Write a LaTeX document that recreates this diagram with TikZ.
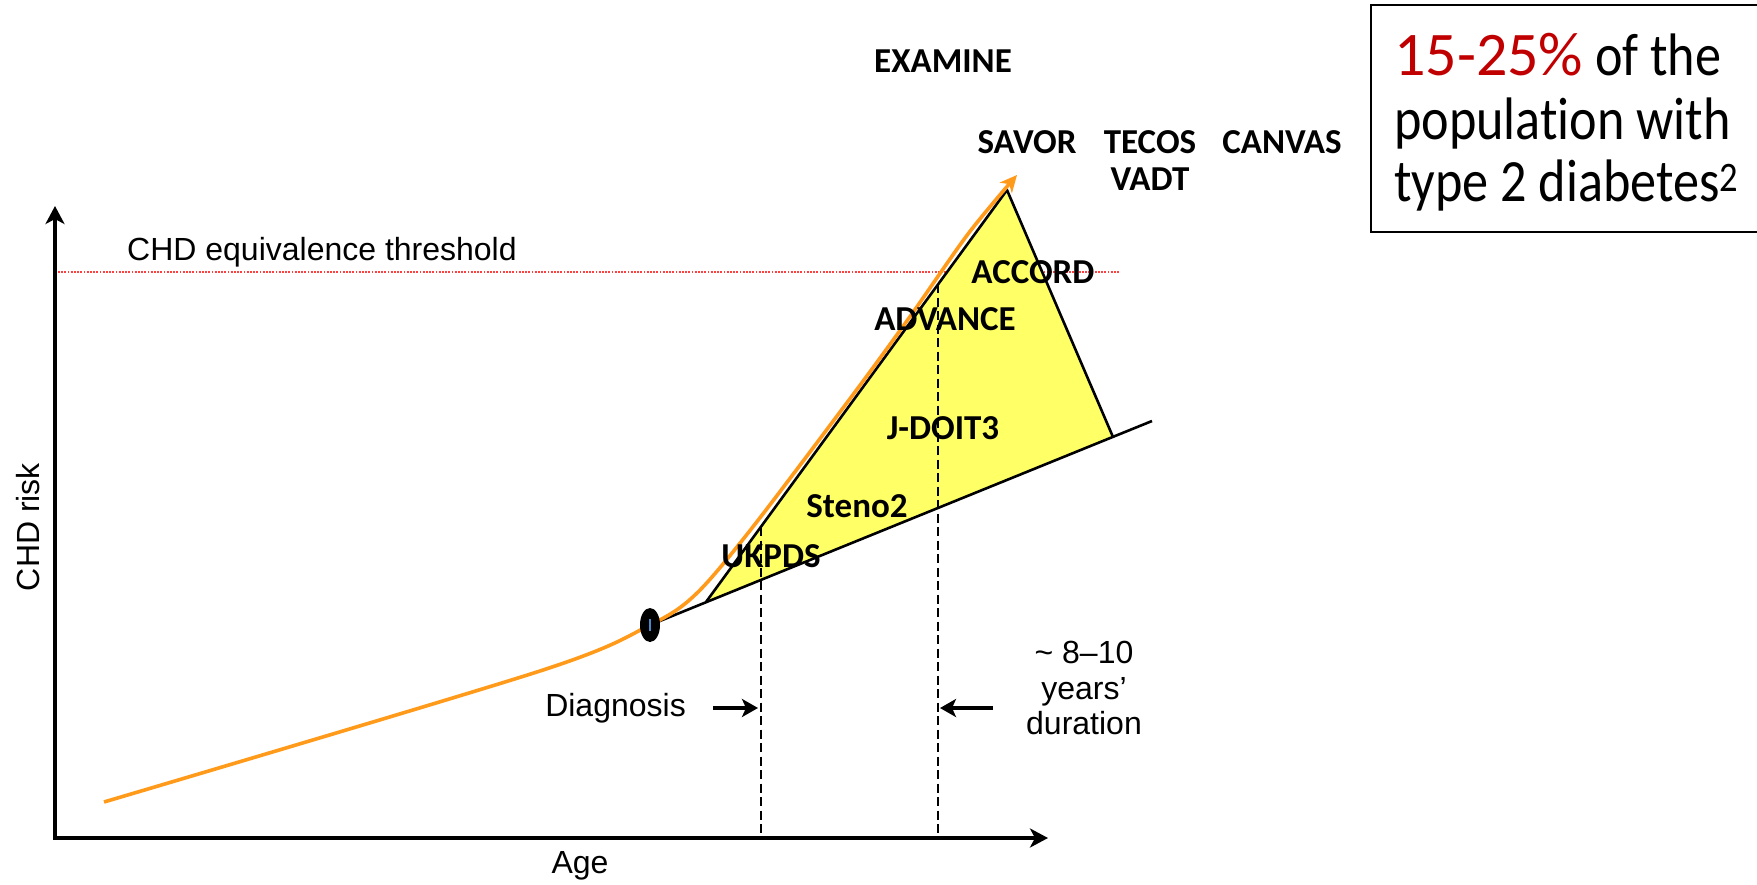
\documentclass[tikz,border=0pt]{standalone}
\usepackage{fontspec}
\setmainfont{Carlito}
\newfontfamily\arial{Liberation Sans}
\newfontfamily\boxfont[FakeStretch=0.87, Ligatures=NoCommon]{Carlito}
\usetikzlibrary{arrows.meta,shapes.geometric,calc}
\definecolor{orangeC}{HTML}{FF9A1A}
\definecolor{yellowC}{HTML}{FFFF66}
\definecolor{redC}{HTML}{C00000}
\definecolor{dotred}{HTML}{FF4040}
\definecolor{dotblue}{HTML}{4A8AC8}
\begin{document}
\begin{tikzpicture}[x=1pt,y=-1pt,
  trial/.style={font=\fontsize{35}{40}\selectfont\bfseries, inner sep=0pt, anchor=base},
  lab/.style={font=\arial\fontsize{32}{35.5}\selectfont, inner sep=0pt},
  boxline/.style={font=\boxfont\fontsize{60}{62}\selectfont, inner sep=0pt, anchor=base west},
  axisline/.style={line width=3.2pt, {Stealth[length=18pt,width=19pt,inset=5pt]}-{Stealth[length=18pt,width=19pt,inset=5pt]}},
  thr/.style={draw=dotred, line width=2.5pt, dash pattern=on 1.8pt off 1.4pt},
  triedge/.style={line width=2.6pt, line join=round},
  dashv/.style={line width=2pt, dash pattern=on 9pt off 4.5pt},
  harrow/.style={line width=4pt, -{Stealth[length=16pt,width=18pt,inset=4pt]}},
  orangecurve/.style={draw=orangeC, line width=3.6pt, -{Stealth[length=17pt,width=16pt,inset=5pt]}},
]
\useasboundingbox (0,0) rectangle (1757,884);

% axes
\coordinate (O) at (55,838);
\coordinate (Ytip) at (55,206);
\coordinate (Xtip) at (1048,838);
\draw[axisline] (Ytip) -- (O) -- (Xtip);

% threshold
\coordinate (T1) at (58,272);
\coordinate (T2) at (1120,272);
\draw[thr] (T1) -- (T2);
\node[lab, anchor=base west] (thrtext) at (127,260) {CHD equivalence threshold};

% triangle
\coordinate (A) at (706,602);
\coordinate (B) at (1007,190);
\coordinate (C) at (1113,437);
\fill[yellowC] (A) -- (B) -- (C) -- cycle;
\draw[triedge] (A) -- (B) -- (C);

% lower line
\coordinate (L1) at (650,625);
\coordinate (L2) at (1152,421);
\draw[line width=2.6pt] (L1) -- (L2);

% dashed verticals
\coordinate (D1t) at (761,527);
\coordinate (D1b) at (761,838);
\coordinate (D2t) at (938,284);
\coordinate (D2b) at (938,838);
\draw[dashv] (D1t) -- (D1b);
\draw[dashv] (D2t) -- (D2b);

% orange curve
\draw[orangecurve] plot[smooth, tension=0.5] coordinates {(104,802) (540,671) (650,625) (696,594) (752,528) (852,396) (909,318) (968,234) (1017,175)};

% diagnosis dot
\node[ellipse, fill=black, minimum width=20pt, minimum height=34pt, inner sep=0pt] (dot) at (650,625) {};
\draw[dotblue, line width=1.5pt] ($(dot.center)+(0,-6)$) -- ($(dot.center)+(0,6)$);

% axis labels
\node[lab, rotate=90] (ylab) at (28,527) {CHD risk};
\node[lab] (xlab) at (580,866) {Age};

% diagnosis and duration
\node[lab, anchor=east] (diag) at (686,708) {Diagnosis};
\coordinate (a1s) at (713,708);
\coordinate (a1e) at (758,708);
\draw[harrow] (a1s) -- (a1e);
\coordinate (a2s) at (993,708);
\coordinate (a2e) at (940,708);
\draw[harrow] (a2s) -- (a2e);
\node[lab, align=center] (dur) at (1084,688) {\textasciitilde{} 8–10\\years’\\duration};

% trial labels
\node[trial] (examine) at (943,72) {EXAMINE};
\node[trial] (savor) at (1027,153) {SAVOR};
\node[trial] (tecos) at (1150,153) {TECOS};
\node[trial] (canvas) at (1282,153) {CANVAS};
\node[trial] (vadt) at (1150,190) {VADT};
\node[trial] (accord) at (1033,283) {ACCORD};
\node[trial] (advance) at (945,330) {ADVANCE};
\node[trial] (jdoit) at (943,439) {J-DOIT3};
\node[trial] (steno) at (857,517) {Steno2};
\node[trial] (ukpds) at (771,567) {UKPDS};

% box
\draw[line width=2.2pt] (1371,5) rectangle (1775,232);
\node[boxline] (box1) at (1394,75) {{\normalfont\fontsize{62}{62}\selectfont\color{redC}15-25\%} of the};
\node[boxline] (box2) at (1394,139) {population with};
\node[boxline] (box3) at (1394,201) {type 2 diabetes\textsuperscript{2}};
\end{tikzpicture}
\end{document}
